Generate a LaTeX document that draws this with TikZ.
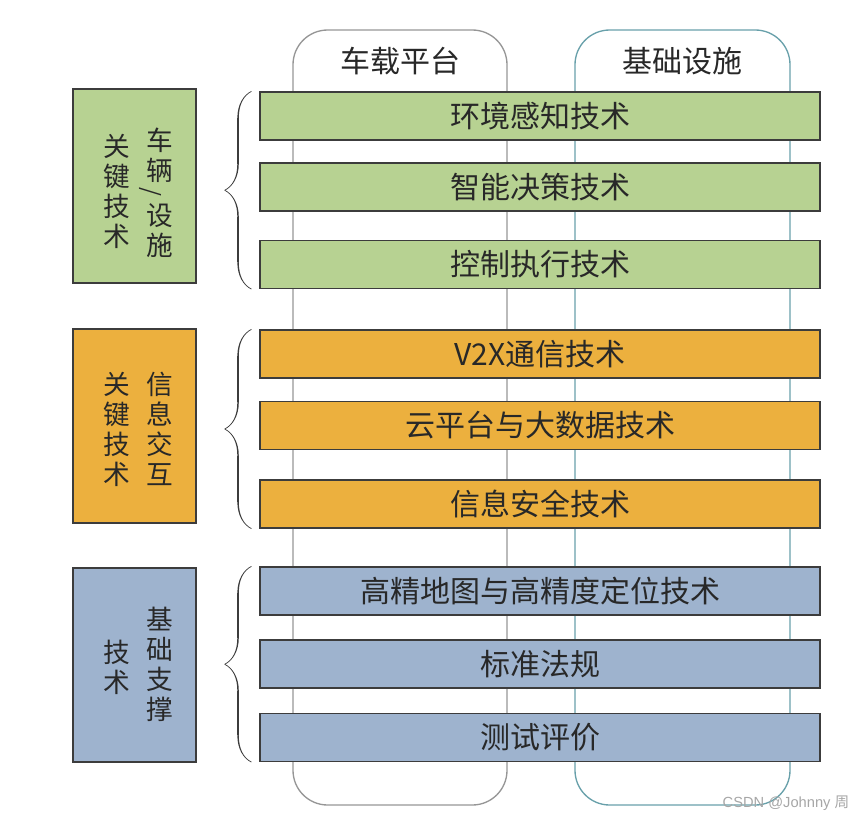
\documentclass[tikz,border=0pt]{standalone}
\usepackage{fontspec}
\setmainfont{Noto Sans CJK SC}
\newfontfamily\wmfont{Liberation Sans}
\usetikzlibrary{decorations.pathreplacing,calligraphy}
\usetikzlibrary{calc}
\definecolor{vehGreen}{RGB}{183,210,146}
\definecolor{infoOrange}{RGB}{236,176,62}
\definecolor{baseBlue}{RGB}{158,179,206}
\definecolor{edgeDark}{RGB}{60,60,60}
\definecolor{txtDark}{RGB}{40,40,40}
\definecolor{colGray}{RGB}{150,150,150}
\definecolor{colTeal}{RGB}{104,160,170}

\begin{document}
\begin{tikzpicture}[x=0.75pt, y=-0.75pt,
    techbar/.style={draw=edgeDark, line width=0.9pt, minimum width=420pt, minimum height=36pt,
        inner sep=0pt, text=txtDark, font=\fontsize{22.5}{26}\selectfont},
    grpbox/.style={draw=edgeDark, line width=0.9pt, minimum width=92.25pt, minimum height=145.5pt, inner sep=0pt},
    grptext/.style={align=center, inner sep=0pt, text=txtDark, font=\fontsize{20}{22.5}\selectfont},
    colhead/.style={text=txtDark, font=\fontsize{22.5}{26}\selectfont},
    grpbrace/.style={decorate, decoration={calligraphic brace, amplitude=20pt}, line width=1.1pt, pen colour={edgeDark}}]
    \useasboundingbox (0,0) rectangle (865,822);

    \draw[colGray, line width=1pt, rounded corners=26pt] (293,30) rectangle (507,805);
    \draw[colTeal, line width=1pt, rounded corners=26pt] (575,30) rectangle (790,805);
    \node[colhead] (vehplat) at (400,61) {车载平台};
    \node[colhead] (infra) at (682,61) {基础设施};

    \node[techbar, fill=vehGreen] (envbar) at (540,116) {环境感知技术};
    \node[techbar, fill=vehGreen] (decbar) at (540,187) {智能决策技术};
    \node[techbar, fill=vehGreen] (ctlbar) at (540,264.5) {控制执行技术};
    \node[techbar, fill=infoOrange] (v2xbar) at (540,354) {V2X通信技术};
    \node[techbar, fill=infoOrange] (cloudbar) at (540,425.5) {云平台与大数据技术};
    \node[techbar, fill=infoOrange] (secbar) at (540,504) {信息安全技术};
    \node[techbar, fill=baseBlue] (mapbar) at (540,591) {高精地图与高精度定位技术};
    \node[techbar, fill=baseBlue] (stdbar) at (540,664) {标准法规};
    \node[techbar, fill=baseBlue] (testbar) at (540,737.5) {测试评价};

    \node[grpbox, fill=vehGreen] (vehgrp) at (134.5,186) {};
    \node[grpbox, fill=infoOrange] (infogrp) at (134.5,426) {};
    \node[grpbox, fill=baseBlue] (basegrp) at (134.5,665) {};

    \node[grptext] (vehkey) at (117,191) {关\\键\\技\\术};
    \node[grptext] (vehname) at (160,193) {车\\辆\\[11pt]设\\施};
    \node[grptext, font=\fontsize{17}{20}\selectfont] (vehslash) at (150,192) {\rotatebox{-90}{/}};
    \node[grptext] (infokey) at (117,429) {关\\键\\技\\术};
    \node[grptext] (infoname) at (160,429) {信\\息\\交\\互};
    \node[grptext] (basekey) at (117,667) {技\\术};
    \node[grptext] (basename) at (160,664) {基\\础\\支\\撑};

    \draw[grpbrace] ($(ctlbar.south west)+(-8,0)$) -- ($(envbar.north west)+(-8,0)$);
    \draw[grpbrace] ($(secbar.south west)+(-8,0)$) -- ($(v2xbar.north west)+(-8,0)$);
    \draw[grpbrace] ($(testbar.south west)+(-8,0)$) -- ($(mapbar.north west)+(-8,0)$);

    \node[text=gray!70, font=\wmfont\fontsize{11}{13}\selectfont, inner sep=0pt] (wmark) at (786,803) {CSDN @Johnny {\rmfamily 周}};
\end{tikzpicture}
\end{document}
